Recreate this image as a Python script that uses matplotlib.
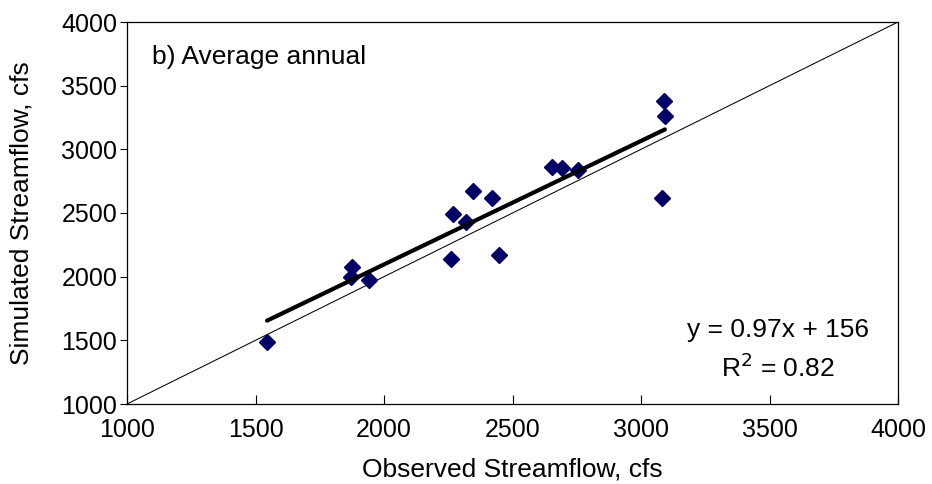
import matplotlib
matplotlib.use("Agg")
import matplotlib.pyplot as plt
import numpy as np

plt.rcParams['font.family'] = ['Liberation Sans', 'DejaVu Sans']

# Observed vs simulated average annual streamflow (cfs)
observed = [1545, 1876, 1872, 1941, 2259, 2270, 2319, 2345, 2422, 2446,
            2654, 2692, 2754, 3083, 3089, 3093]
simulated = [1490, 2073, 1997, 1971, 2142, 2489, 2431, 2673, 2616, 2168,
             2865, 2852, 2837, 2616, 3376, 3260]

slope = 0.97
intercept = 156
r_squared = 0.82

ticks = [1000, 1500, 2000, 2500, 3000, 3500, 4000]

fig = plt.figure(figsize=(9.32, 4.84), dpi=100)
ax = fig.add_axes([127 / 932, 1 - 404 / 484, 771 / 932, 382 / 484])

# 1:1 reference line
ax.plot([1000, 4000], [1000, 4000], color='black', lw=0.75, zorder=2)

# data points
ax.plot(observed, simulated, linestyle='none', marker='D', markersize=8,
        color='#000066', zorder=3)

# linear fit over the observed range
xf = np.array([min(observed), max(observed)])
ax.plot(xf, slope * xf + intercept, color='black', lw=3, solid_capstyle='round', zorder=4)

ax.set_xlim(1000, 4000)
ax.set_ylim(1000, 4000)
ax.set_xticks(ticks)
ax.set_yticks(ticks)
ax.tick_params(axis='x', direction='in', length=6.5, width=0.8, labelsize=18, pad=10)
ax.tick_params(axis='y', direction='out', length=5, width=0.8, labelsize=18, pad=2)
for s in ax.spines.values():
    s.set_linewidth(0.9)

ax.set_xlabel('Observed Streamflow, cfs', fontsize=19)
ax.set_ylabel('Simulated Streamflow, cfs', fontsize=19)
ax.xaxis.set_label_coords(0.5, -0.139)
ax.yaxis.set_label_coords(-0.121, 0.5)

ax.text(0.033, 0.908, 'b) Average annual', transform=ax.transAxes, fontsize=19,
        ha='left', va='center')
ax.text(0.844, 0.194, f'y = {slope:.2f}x + {intercept}', transform=ax.transAxes,
        fontsize=19, ha='center', va='center')
ax.text(0.844, 0.094, f'R$^{{2}}$ = {r_squared:.2f}', transform=ax.transAxes,
        fontsize=19, ha='center', va='center')

fig.savefig('out.png', dpi=100)
